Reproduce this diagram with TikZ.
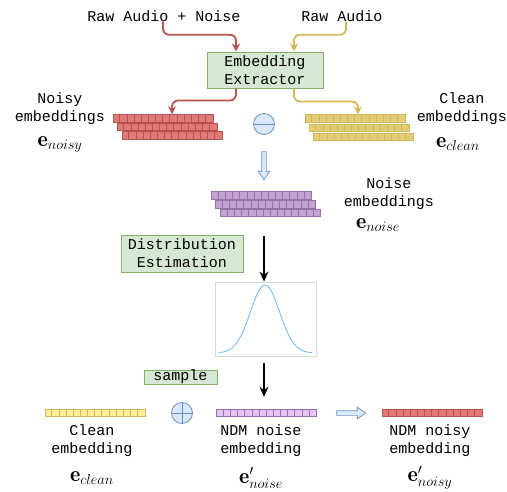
\documentclass[tikz,border=0pt]{standalone}
\usepackage{amsmath}
\usepackage{fontspec}
\setmonofont{Liberation Mono}
\usetikzlibrary{positioning,arrows.meta,shapes.arrows}

\definecolor{boxfill}{HTML}{D5E8D4}
\definecolor{boxline}{HTML}{82B366}
\definecolor{redfill}{HTML}{E07A78}
\definecolor{redline}{HTML}{B85450}
\definecolor{yelfill}{HTML}{E3CD78}
\definecolor{yelline}{HTML}{D6B656}
\definecolor{ltyelfill}{HTML}{FFEC9C}
\definecolor{purfill}{HTML}{C4A2D6}
\definecolor{purline}{HTML}{9673A6}
\definecolor{ltpurfill}{HTML}{E8C2F7}
\definecolor{opfill}{HTML}{DAE8FC}
\definecolor{opline}{HTML}{6C8EBF}
\definecolor{curve}{HTML}{66B8FF}

\tikzset{
  txt/.style={font=\fontsize{15}{18}\selectfont\ttfamily, align=center, inner sep=0pt},
  vec/.style={font=\fontsize{22}{24}\selectfont, inner sep=0pt},
  greenbox/.style={txt, draw=boxline, fill=boxfill, line width=1pt},
  embrow/.style={draw, line width=0.8pt, minimum width=100pt, minimum height=7.5pt, inner sep=0pt},
  opnode/.style={circle, draw=opline, fill=opfill, line width=0.8pt, minimum size=21pt, inner sep=0pt},
  flow/.style={line width=1.8pt, rounded corners=6pt, -{Stealth[length=8pt,width=8pt]}},
  bigarrow/.style={line width=1.6pt, -{Stealth[length=10pt,width=9pt]}},
  hollow/.style={single arrow, draw=opline, fill=opfill, line width=0.7pt, inner sep=2pt,
    single arrow head extend=3.5pt, single arrow tip angle=70, minimum height=28pt}
}

% one row of 14 cells
\newcommand{\embedrow}[4]{%
  \node[embrow, fill=#3, draw=#4] (#1) at (#2) {};
  \foreach \i in {1,...,13}
    \draw[#4, line width=0.6pt] (#1.south west) ++(\i*100/14,0) -- ++(0,-7.5);
}

\begin{document}
\begin{tikzpicture}[x=1pt,y=-1pt]
\useasboundingbox (0,0) rectangle (507,491);

\node[txt] (rawnoise) at (164,16) {Raw Audio + Noise};
\node[txt] (raw) at (342,16) {Raw Audio};
\node[greenbox, minimum width=116pt, minimum height=36pt] (ext) at (265,70) {Embedding\\Extractor};

\draw[flow, redline] ([xshift=-1pt]rawnoise.south) -- ++(0,13) -| ([xshift=-29pt]ext.north);
\draw[flow, yelline] ([xshift=4pt]raw.south) -- ++(0,13) -| ([xshift=29pt]ext.north);

% noisy and clean stacks
\embedrow{ny1}{163,118.5}{redfill}{redline}
\embedrow{ny2}{167,127}{redfill}{redline}
\embedrow{ny3}{172,135.5}{redfill}{redline}
\embedrow{cl1}{355,118.5}{yelfill}{yelline}
\embedrow{cl2}{359,128}{yelfill}{yelline}
\embedrow{cl3}{363,137}{yelfill}{yelline}

\draw[flow, redline] ([xshift=-29pt]ext.south) -- ++(0,12) -| ([xshift=9pt]ny1.north);
\draw[flow, yelline] ([xshift=29pt]ext.south) -- ++(0,13) -| ([xshift=3pt]cl1.north);

\node[txt] (noisylbl) at (60,109) {Noisy\\embeddings};
\node[vec] (noisyvec) at (60,144) {$\mathbf{e}_{noisy}$};
\node[txt] (cleanlbl) at (462,109) {Clean\\embeddings};
\node[vec] (cleanvec) at (458,144) {$\mathbf{e}_{clean}$};

\node[opnode] (minus) at (264,124) {};
\draw[opline, line width=0.8pt] (minus.west) -- (minus.east);

\node[hollow, rotate=-90] (down) at (264,164) {};

% noise stack
\embedrow{ns1}{261.5,195.5}{purfill}{purline}
\embedrow{ns2}{265.5,204.5}{purfill}{purline}
\embedrow{ns3}{270.5,213}{purfill}{purline}
\node[txt] (noiselbl) at (389,193.5) {Noise\\embeddings};
\node[vec] (noisevec) at (378,225) {$\mathbf{e}_{noise}$};

\node[greenbox, minimum width=122pt, minimum height=37pt] (dist) at (182,253.5) {Distribution\\Estimation};

\node[draw=black!15, line width=0.7pt, minimum width=101pt, minimum height=74pt, inner sep=0pt] (pdf) at (265.5,319) {};
\draw[curve, line width=0.8pt] plot[domain=219:312, samples=80, smooth]
  (\x, {353 - 68*exp(-((\x-265)/14.5)^2/2)});

\coordinate (a1) at (264,236);
\draw[bigarrow] (a1) -- (a1 |- pdf.north);
\coordinate (a2) at (264,363);
\node[greenbox, minimum width=73pt, minimum height=14pt] (sample) at (180.5,377) {sample};

% bottom row
\embedrow{cln}{95,413}{ltyelfill}{yelline}
\embedrow{ndm}{266.5,413}{ltpurfill}{purline}
\embedrow{ndmy}{432,413}{redfill}{redline}
\draw[bigarrow] (a2) -- ([yshift=12pt]a2 |- ndm.north);

\node[opnode] (plus) at (182,413) {};
\draw[opline, line width=0.8pt] (plus.west) -- (plus.east) (plus.north) -- (plus.south);
\node[hollow, minimum height=29pt] (right) at (349.5,413) {};

\node[txt] (clnlbl) at (92,440.5) {Clean\\embedding};
\node[vec] (clnvec) at (92,478) {$\mathbf{e}_{clean}$};
\node[txt] (ndmlbl) at (261,440.5) {NDM noise\\embedding};
\node[vec] (ndmvec) at (261,478) {$\mathbf{e}'_{noise}$};
\node[txt] (ndmylbl) at (430,440.5) {NDM noisy\\embedding};
\node[vec] (ndmyvec) at (430,478) {$\mathbf{e}'_{noisy}$};
\end{tikzpicture}
\end{document}
